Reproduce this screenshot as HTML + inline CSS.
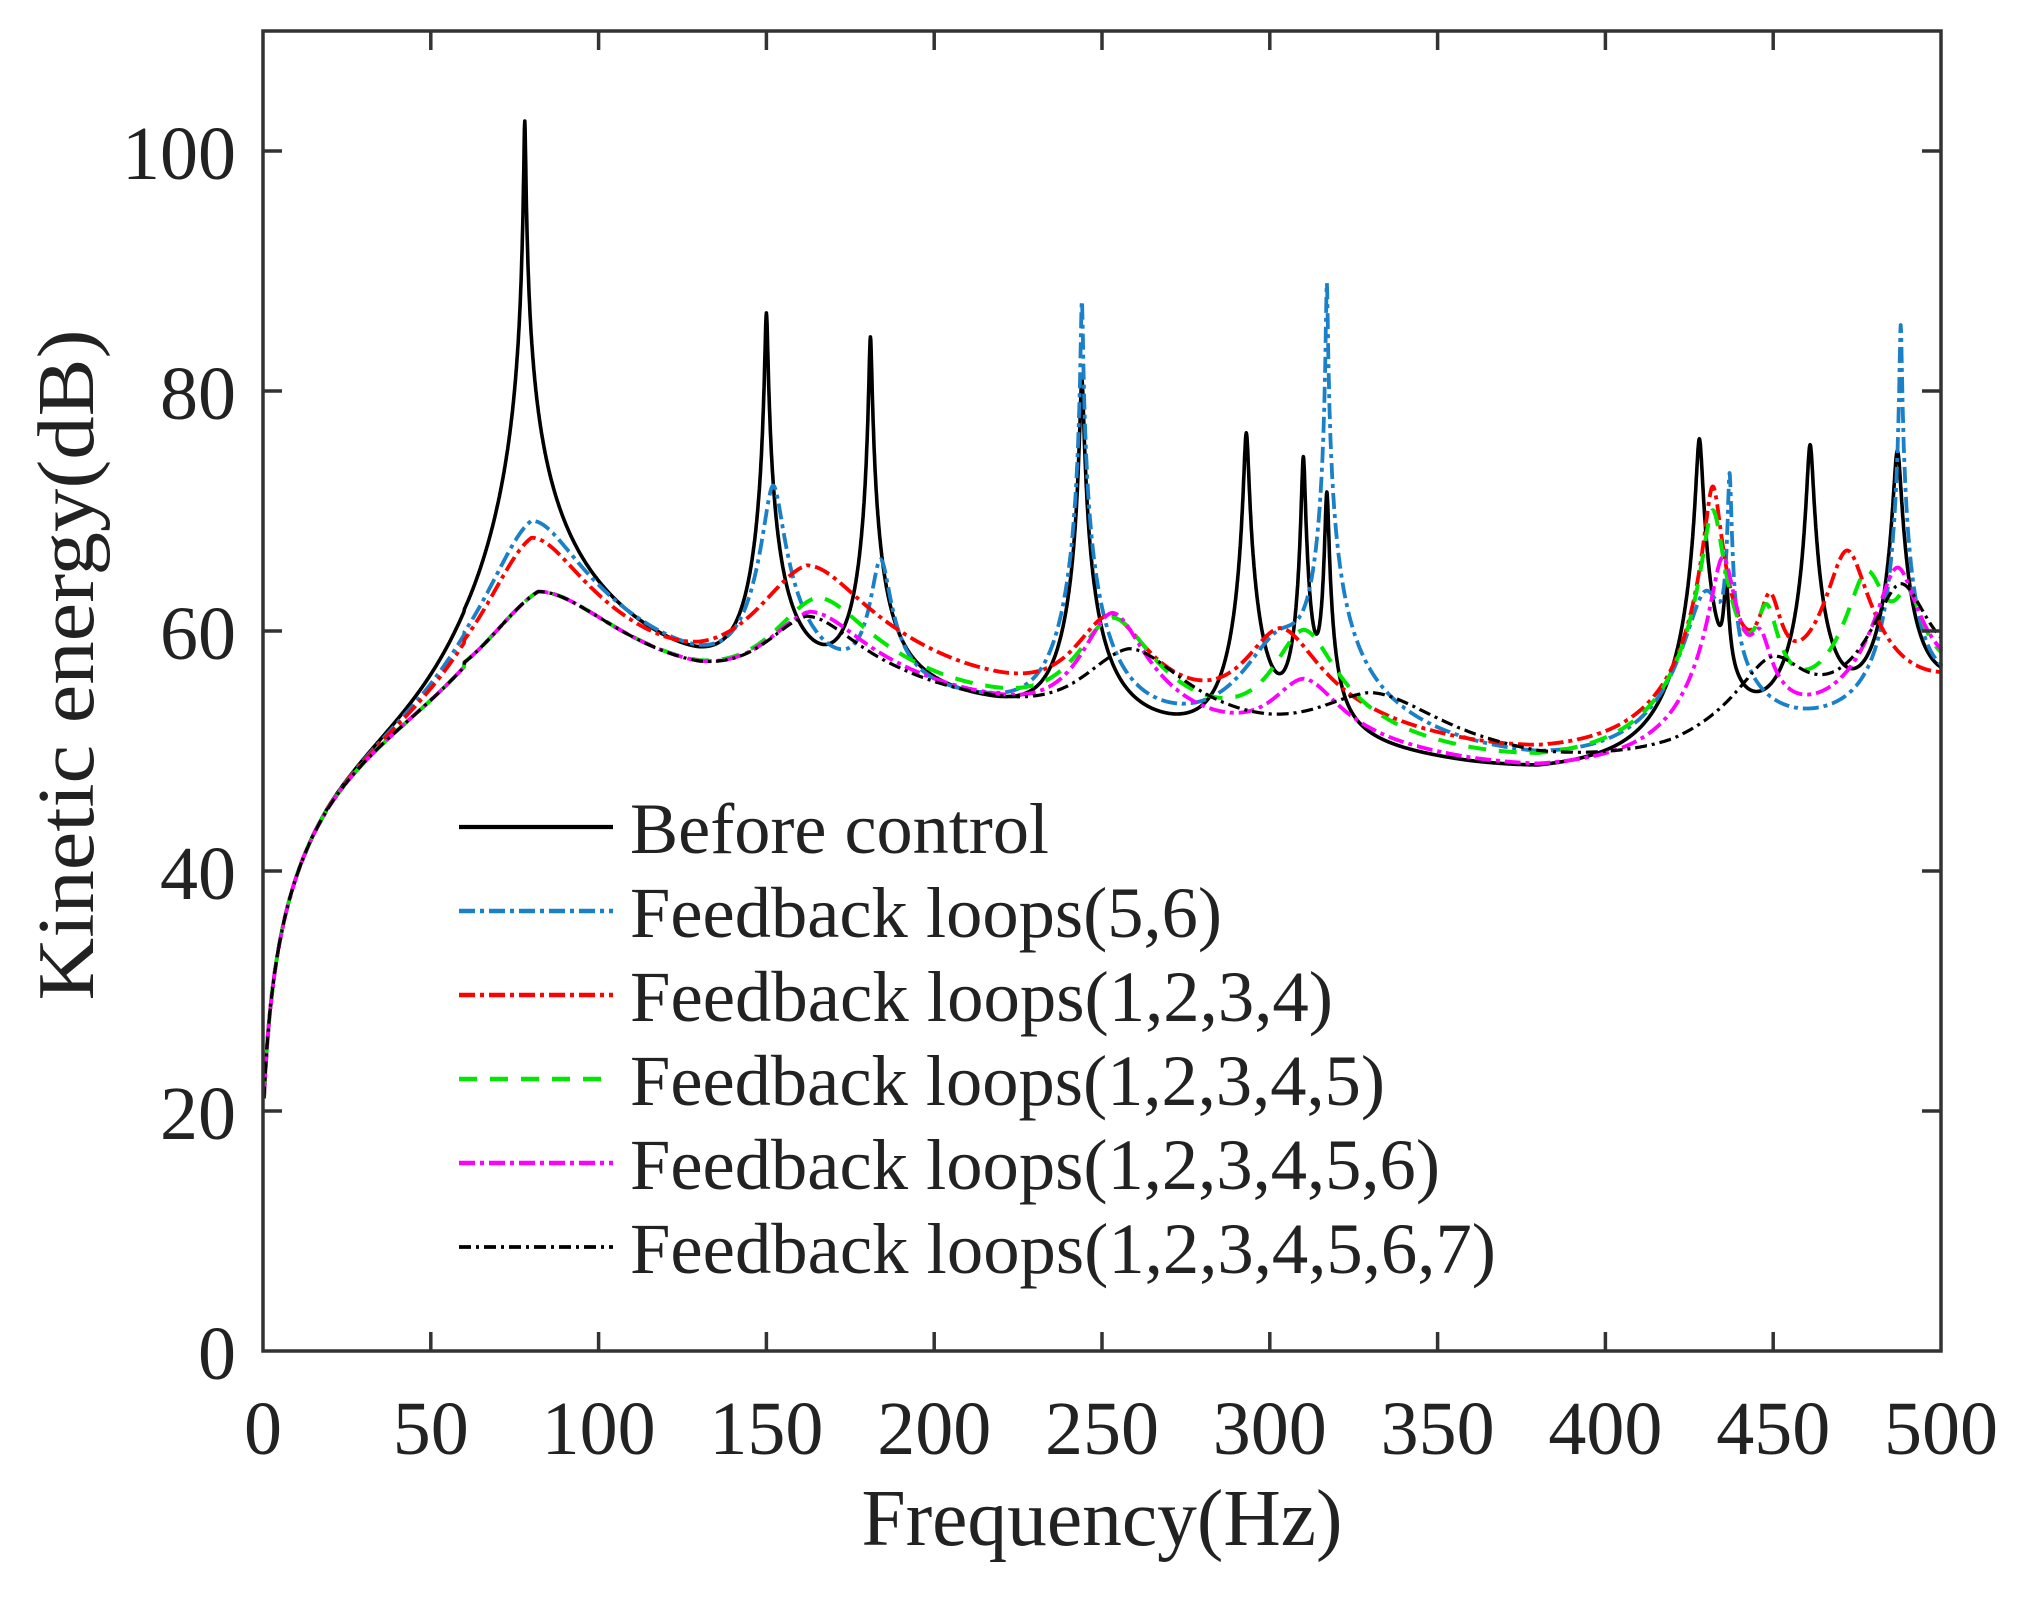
<!DOCTYPE html>
<html><head><meta charset="utf-8"><style>
html,body{margin:0;padding:0;background:#fff;}
svg{display:block;}
text{font-family:"Liberation Serif",serif;fill:#222;}
</style></head><body>
<svg id="s" width="2024" height="1603" viewBox="0 0 2024 1603" xmlns="http://www.w3.org/2000/svg">
<rect width="2024" height="1603" fill="#fff"/>
<g id="curves" fill="none" stroke-linejoin="round"></g>
<rect x="263" y="31" width="1678" height="1320" fill="none" stroke="#333" stroke-width="3.5"/>
<g stroke="#333" stroke-width="3.5" id="ticks"></g>
<g font-size="76" id="labels"></g>
<text x="1102" y="1545" font-size="80" text-anchor="middle" textLength="481" lengthAdjust="spacingAndGlyphs">Frequency(Hz)</text>
<text transform="translate(93,665) rotate(-90)" font-size="80" text-anchor="middle" textLength="671" lengthAdjust="spacingAndGlyphs">Kinetic energy(dB)</text>
<g id="legend" font-size="72"></g>
</svg>
<script>
const NS="http://www.w3.org/2000/svg";
const X=f=>263+3.356*f, Y=v=>1351-12*v;
function el(t,a,p,txt){const e=document.createElementNS(NS,t);for(const k in a)e.setAttribute(k,a[k]);if(txt!==undefined)e.textContent=txt;p.appendChild(e);return e;}
const tk=document.getElementById('ticks'), lb=document.getElementById('labels');
for(let f=0;f<=500;f+=50){const x=X(f);if(f>0&&f<500){el('line',{x1:x,y1:1351,x2:x,y2:1332},tk);el('line',{x1:x,y1:31,x2:x,y2:50},tk);}
 el('text',{x:x,y:1454,'text-anchor':'middle'},lb,String(f));}
for(let v=0;v<=100;v+=20){const y=Y(v);if(v>0){el('line',{x1:263,y1:y,x2:282,y2:y},tk);el('line',{x1:1941,y1:y,x2:1922,y2:y},tk);}
 el('text',{x:236,y:y+28,'text-anchor':'end'},lb,String(v));}
function lowB(f){return 19+9.2*Math.log(1+f/1.2)- (f>20? (f-20)*0.02:0);}
const base=[[0,19],[60,55],[80,55.5],[100,55],[130,53.5],[160,53.5],[190,53],[215,52],[240,50.5],[270,49.5],[300,48.5],[330,48],[360,47],[380,46.5],[400,47],[420,47.5],[450,50],[480,52],[500,54.5]];
function B(f){
 if(f<=60){return Math.min(lowB(f),55);}
 for(let i=1;i<base.length;i++){if(f<=base[i][0]){const a=base[i-1],b=base[i];const t=(f-a[0])/(b[0]-a[0]);return a[1]+(b[1]-a[1])*t;}}return 55;}
const series=[
 {c:'#000',w:3.6,d:'',p:[[78,102.5,0.25],[150,86.5,0.4],[181,84.5,0.4],[244,81,0.5],[293,76.5,0.65],[310,74.5,0.5],[317,71.5,0.5],[428,76,0.85],[436,63,0.7],[461,75.5,0.85],[487,75,1.0]]},
 {c:'#1a80c8',w:3.8,d:'16 5 4 5',p:[[80,69,12],[152,72,2.5],[184,65.5,2.5],[244,87.5,0.3],[303,58.5,10],[317,89,0.25],[430,63,5],[437,73,0.45],[488,85.5,0.3]]},
 {c:'#ff0000',w:3.8,d:'16 5 4 5',p:[[80,67.5,13],[162,65,15],[252,60.5,10],[303,59.5,10],[432,72,2],[449,62,3],[472,66.5,5]]},
 {c:'#00e800',w:4,d:'18 13',p:[[82,62.5,20],[165,62,14],[253,60.5,10],[310,59.5,8],[432,70,2.5],[448,61,3],[478,64.5,5],[490,62,4]]},
 {c:'#ff00ff',w:3.8,d:'16 5 4 5',p:[[82,62.5,20],[163,60.5,15],[253,61,8],[310,54.5,10],[435,66,3],[446,58,3],[487,65,5]]},
 {c:'#000',w:3.2,d:'12 5 3 5',p:[[82,62.5,20],[162,60,15],[258,57.5,15],[330,53,20],[450,56.5,10],[488,63.5,7]]}
];
const cg=document.getElementById('curves');
series.forEach(s=>{let pts=[];for(let f=0.3;f<=500.001;f+=0.1){let L=Math.pow(10,B(f)/10);for(const [f0,P,g] of s.p){const r=(f-f0)/g;let w=1/(1+r*r);if(f<f0)w*=Math.pow(f/f0,4);L+=Math.pow(10,P/10)*w;}
 let v=10*Math.log10(L);pts.push(X(f).toFixed(1)+','+Y(v).toFixed(1));}
 const a={d:'M'+pts.join('L'),stroke:s.c,'stroke-width':s.w};if(s.d)a['stroke-dasharray']=s.d;el('path',a,cg);});
const lg=document.getElementById('legend');
const names=['Before control','Feedback loops(5,6)','Feedback loops(1,2,3,4)','Feedback loops(1,2,3,4,5)','Feedback loops(1,2,3,4,5,6)','Feedback loops(1,2,3,4,5,6,7)'];
const lens=[419,592,703,755,810,866];
names.forEach((n,i)=>{const y=827+84*i;const s=series[i];const a={x1:459,y1:y,x2:613,y2:y,stroke:s.c,'stroke-width':s.w+0.6};if(s.d)a['stroke-dasharray']=s.d;el('line',a,lg);
 el('text',{x:630,y:y+26,textLength:lens[i],lengthAdjust:'spacingAndGlyphs'},lg,n);});
</script>
</body></html>
